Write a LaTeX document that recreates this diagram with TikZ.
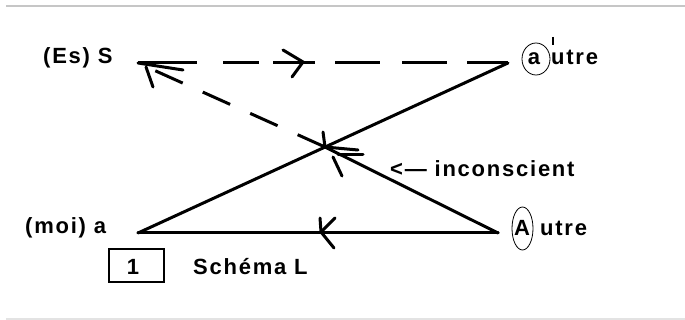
\documentclass[tikz,border=0pt]{standalone}
\usepackage{fontspec}
\newfontfamily\lblfont{Liberation Sans Bold}[LetterSpace=8]
\begin{document}
\begin{tikzpicture}[x=1pt,y=-1pt,
  lbl/.style={inner sep=0pt,font=\lblfont\fontsize{22}{25}\selectfont},
  heavy/.style={line width=3pt,line cap=round},
  ring/.style={draw,ellipse,line width=0.8pt,inner sep=0pt}]
\useasboundingbox (0,0) rectangle (685,320);
\draw[gray!45,line width=1.5pt] (6,6) -- (685,6);
\draw[gray!22,line width=1.5pt] (6,319) -- (685,319);
% points
\coordinate (S) at (138,63);
\coordinate (ap) at (508,63);
\coordinate (a) at (138,233);
\coordinate (A) at (498,233);
\coordinate (X) at (325,147);
% labels
\node[lbl,anchor=base west] (lS) at (43,64) {(Es) S};
\node[lbl,anchor=base west] (la) at (25,234) {(moi) a};
\node[lbl,anchor=base] (ca) at (534,65) {a};
\draw[line width=0.8pt] (536,59) ellipse [x radius=14,y radius=16];
\node[lbl,anchor=base west] (lap) at (551,65) {utre};
\draw[line width=2.2pt] (553,37) -- (553,45);
\node[lbl,anchor=base] (cA) at (522,236) {A};
\draw[line width=0.8pt] (522.5,228.5) ellipse [x radius=10.5,y radius=21.5];
\node[lbl,anchor=base west] (lA) at (540,236) {utre};
\node[lbl,anchor=base west] (lInc) at (390,177) {<— inconscient};
\node[draw,line width=1.2pt,minimum width=55pt,minimum height=33pt,inner sep=0pt] (box) at (136.5,265.5) {};
\node[lbl,anchor=base] (one) at (133,275) {1};
\node[lbl,anchor=base west] (schema) at (193,274) {Schéma L};
% connectors
\draw[heavy] (a) -- (ap);
\draw[heavy] (A) -- (X);
\draw[heavy] (A) -- (a);
\draw[heavy,line cap=butt,dash pattern=on 59pt off 26pt on 36pt off 14pt on 42pt off 20pt on 45pt off 22pt on 45pt off 20pt on 41pt off 10pt] (S) -- (ap);
\draw[heavy,line cap=butt,dash pattern=on 30pt off 22pt] (X) -- (S);
% arrow heads
\draw[heavy] (283,50) -- (303,62) -- (292,77);
\draw[heavy] (320,218) -- (321,232) -- (334,248);
\draw[heavy] (335,218) -- (321,232);
\draw[heavy] (S) -- (183,70);
\draw[heavy] (146,67) -- (153,87);
\draw[heavy] (323,132) -- (325,147);
\draw[heavy] (X) -- (358,150);
\draw[heavy] (338,155) -- (363,155);
\draw[heavy] (333,157) -- (342,176);
\end{tikzpicture}
\end{document}
